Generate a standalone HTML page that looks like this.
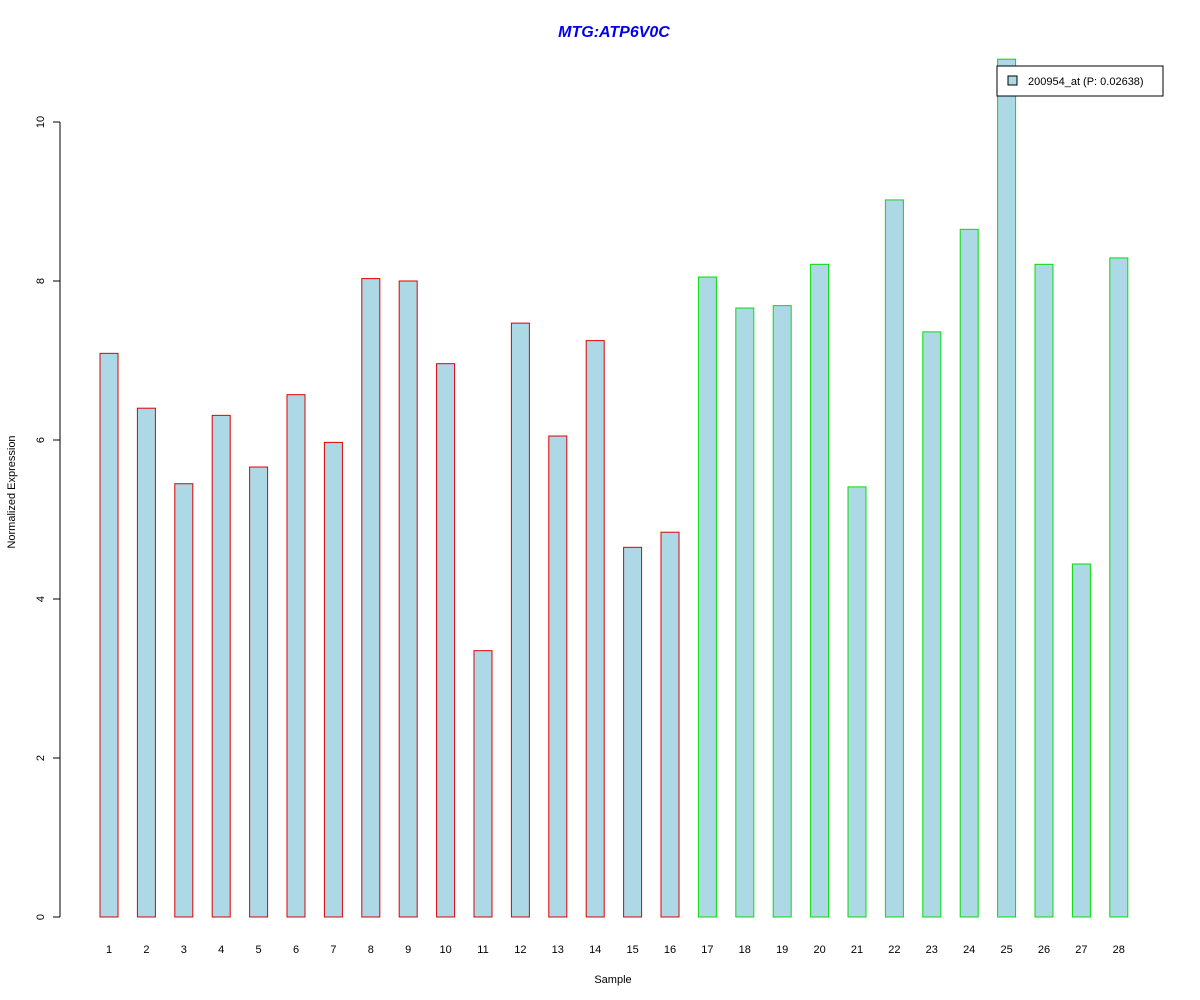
<!DOCTYPE html>
<html><head><meta charset="utf-8"><style>body{margin:0;background:#fff}svg{display:block}text{font-family:"Liberation Sans",Arial,sans-serif}</style></head>
<body>
<svg id="chart" width="1200" height="1000" xmlns="http://www.w3.org/2000/svg">
<rect width="1200" height="1000" fill="#fff"/>
<text x="614" y="37" text-anchor="middle" font-size="16" font-weight="bold" font-style="italic" fill="#0000ee">MTG:ATP6V0C</text>
<text x="613" y="983" text-anchor="middle" font-size="11">Sample</text>
<text transform="translate(15,492) rotate(-90)" text-anchor="middle" font-size="11">Normalized Expression</text>
<g id="yaxis"></g>
<g id="bars"></g>
<g id="xlabels"></g>
<g>
<rect x="997" y="66" width="166" height="30" fill="#fff" stroke="#000"/>
<rect x="1008" y="76" width="9" height="9" fill="#add8e6" stroke="#000"/>
<text x="1028" y="85" font-size="11">200954_at (P: 0.02638)</text>
</g>
</svg>
<script>
const categories = ["1","2","3","4","5","6","7","8","9","10","11","12","13","14","15","16","17","18","19","20","21","22","23","24","25","26","27","28"];
const values = [7.09,6.40,5.45,6.31,5.66,6.57,5.97,8.03,8.00,6.96,3.35,7.47,6.05,7.25,4.65,4.84,8.05,7.66,7.69,8.21,5.41,9.02,7.36,8.65,10.79,8.21,4.44,8.29];
const groups = ["r","r","r","r","r","r","r","r","r","r","r","r","r","r","r","r","g","g","g","g","g","g","g","g","g","g","g","g"];
const yTicks = [0,2,4,6,8,10];
const NS="http://www.w3.org/2000/svg";
const y = v => 917 - v*79.5;
const x = i => 109 + i*37.4;
function mk(tag, attrs, parent){const e=document.createElementNS(NS,tag);for(const k in attrs)e.setAttribute(k,attrs[k]);parent.appendChild(e);return e;}
const ya=document.getElementById('yaxis');
mk('line',{x1:60,x2:60,y1:y(0),y2:y(10),stroke:'#000'},ya);
yTicks.forEach(t=>{
  mk('line',{x1:53,x2:60,y1:y(t),y2:y(t),stroke:'#000'},ya);
  const tx=mk('text',{transform:`translate(44,${y(t)}) rotate(-90)`,'text-anchor':'middle','font-size':11},ya);
  tx.textContent=t;
  
  
});
const bg=document.getElementById('bars'), xl=document.getElementById('xlabels');
values.forEach((v,i)=>{
  const r=mk('rect',{x:x(i)-9,y:y(v),width:18,height:y(0)-y(v),fill:'#add8e6',stroke:groups[i]==='r'?'#e00000':'#00e000'},bg);
  
  
  const t=mk('text',{x:x(i),y:953,'text-anchor':'middle','font-size':11},xl);
  t.textContent=categories[i];
  
  
});
</script>
</body></html>
